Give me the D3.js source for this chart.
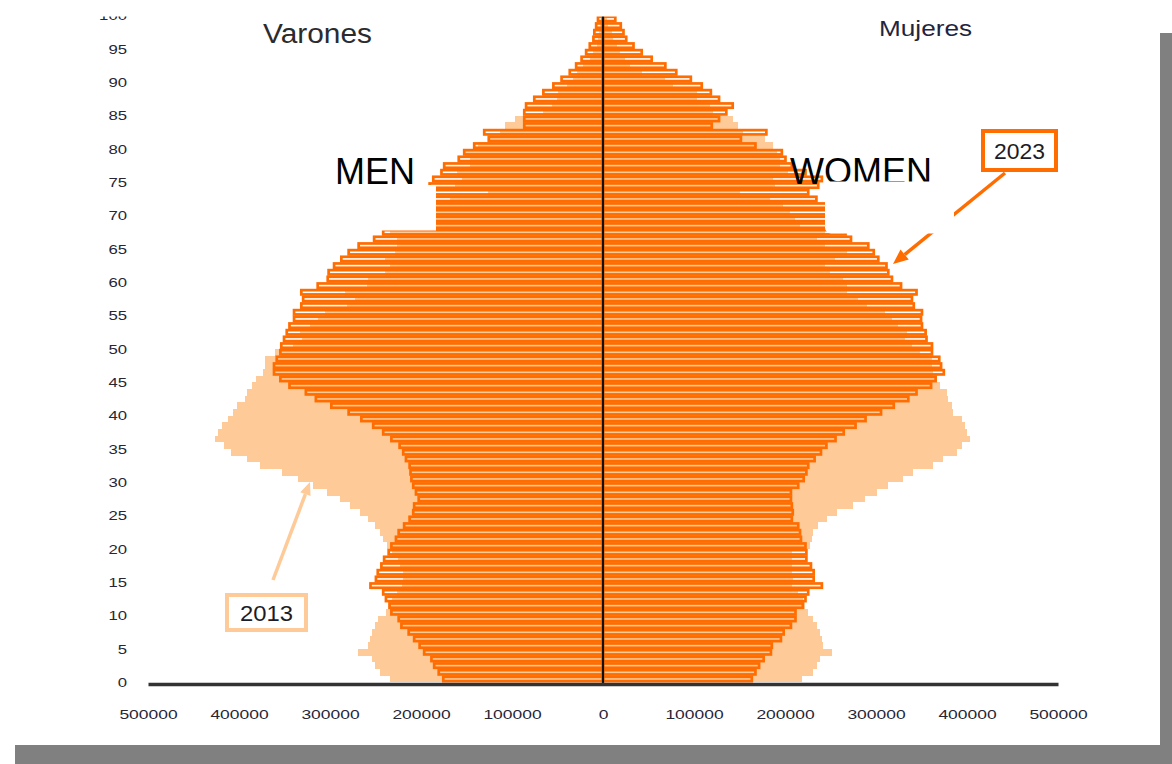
<!DOCTYPE html>
<html>
<head>
<meta charset="utf-8">
<script src="https://cdn.jsdelivr.net/npm/d3@7"></script>
<style>
  html, body { margin: 0; padding: 0; background: #fff; }
  svg { display: block; font-family: "Liberation Sans", Arial, sans-serif; }
</style>
</head>
<body>
<script>
// poblacion por edad simple 0..100, en miles
const ages = d3.range(0, 101);

const men2013 = [234,245,251,254,269,258,256,254,251,247, 238,236,232,226,221,220,220,223,225,232,
  237,242,245,251,258,267,278,289,303,319, 335,353,377,391,409,417,426,423,419,412,
  407,402,393,391,386,381,374,371,371,360, 341,331,333,322,313,306,281,273,284,259,
  258,240,234,240,229,226,226,234,223,212, 196,185,168,126,163,155,160,146,146,152,
  137,124,113,108,97,66,56,51,49,40, 33,29,22,14,11,7,5,4,3,2,2];

const women2013 = [219,231,235,238,252,242,241,238,235,231, 225,222,220,214,208,209,208,208,208,208,
  227,230,231,236,246,257,275,288,301,313, 330,341,363,374,389,395,403,400,398,395,
  385,384,379,378,370,365,363,362,362,348, 340,332,334,324,318,310,290,280,268,268,
  264,249,244,255,268,244,235,244,216,211, 206,198,184,151,189,187,203,195,195,191,
  187,178,154,148,143,121,118,103,103,77, 68,43,30,24,19,15,11,10,5,4,2];

const men2023 = [177,182,187,190,198,203,209,215,223,226, 234,236,240,243,257,251,249,245,242,237,
  234,229,226,220,214,210,209,204,207,210, 212,213,214,218,221,225,234,243,254,267,
  281,300,317,328,346,356,363,363,360,356, 355,352,349,346,341,341,333,331,333,315,
  304,303,297,289,281,270,253,243,234,225, 218,212,207,201,192,188,179,176,160,154,
  143,127,132,88,88,88,86,77,67,56, 47,38,31,25,20,16,12,11,9,7,5];

const women2023 = [165,169,173,178,186,187,197,200,208,213, 213,221,224,227,242,233,233,230,225,225,
  224,219,218,216,209,210,209,208,208,216, 222,225,227,234,241,247,257,266,279,290,
  307,321,337,346,362,367,376,373,371,363, 363,357,356,352,351,352,343,341,346,329,
  319,315,313,304,299,293,274,268,260,255, 252,249,236,227,238,242,224,209,202,198,
  169,153,181,121,129,137,144,129,120,110, 98,82,70,55,44,35,27,24,21,15,10];

const ageTicks = [0,5,10,15,20,25,30,35,40,45,50,55,60,65,70,75,80,85,90,95,100];
const popTicks = [-500000,-400000,-300000,-200000,-100000,0,100000,200000,300000,400000,500000];

const rows = ages.map((a, i) => ({
  age: a,
  m13: men2013[i] * 1000, w13: women2013[i] * 1000,
  m23: men2023[i] * 1000, w23: women2023[i] * 1000
}));

const light = '#fdca98';
const orange = '#ff6c00';

let svg = d3.select('body').append('svg').attr('width', 1172).attr('height', 764);

// page shadow
svg.append('rect').attr('x', 1160).attr('y', 33).attr('width', 12).attr('height', 731).attr('fill', '#808080');
svg.append('rect').attr('x', 15).attr('y', 745).attr('width', 1157).attr('height', 19).attr('fill', '#808080');

let x = d3.scaleLinear().domain([-500000, 500000]).range([148, 1058]);
let y = d3.scaleLinear().domain([0, 101]).range([682.3, 682.3 - 6.667 * 101]);

// 2013: filled bars
let g13 = svg.append('g').attr('fill', light).attr('shape-rendering', 'crispEdges');
g13.selectAll('rect.m').data(rows).enter().append('rect')
  .attr('x', d => x(-d.m13))
  .attr('width', d => x(0) - x(-d.m13))
  .attr('y', d => y(d.age + 1))
  .attr('height', d => y(d.age) - y(d.age + 1));
g13.selectAll('rect.w').data(rows).enter().append('rect')
  .attr('x', x(0))
  .attr('width', d => x(d.w13) - x(0))
  .attr('y', d => y(d.age + 1))
  .attr('height', d => y(d.age) - y(d.age + 1));

// 2023: outlined bars
const sw = 2.7, bh = 4.3;
let g23 = svg.append('g').attr('fill', 'none').attr('stroke', orange).attr('stroke-width', sw);
g23.selectAll('rect.m').data(rows).enter().append('rect')
  .attr('x', d => x(-d.m23) + sw / 2)
  .attr('width', d => x(0) - x(-d.m23) - sw / 2)
  .attr('y', d => (y(d.age) + y(d.age + 1)) / 2 - bh / 2)
  .attr('height', bh);
g23.selectAll('rect.w').data(rows).enter().append('rect')
  .attr('x', x(0))
  .attr('width', d => x(d.w23) - x(0) - sw / 2)
  .attr('y', d => (y(d.age) + y(d.age + 1)) / 2 - bh / 2)
  .attr('height', bh);

// centre line
svg.append('line')
  .attr('x1', x(0)).attr('x2', x(0))
  .attr('y1', 10).attr('y2', 684)
  .attr('stroke', '#111').attr('stroke-width', 2.2);

// axes
let xAxis = svg.append('g')
  .attr('transform', 'translate(0,684)')
  .call(d3.axisBottom(x).tickValues(popTicks).tickSize(0).tickSizeOuter(0).tickFormat(d => Math.abs(d)));
xAxis.select('.domain').attr('stroke', '#333').attr('stroke-width', 3.5);
xAxis.selectAll('text')
  .attr('y', 30).attr('dy', '0.35em')
  .attr('font-size', 13)
  .attr('font-family', '"Liberation Sans", Arial, sans-serif')
  .attr('fill', '#262636')
  .attr('textLength', d => String(Math.abs(d)).length * 9.7)
  .attr('lengthAdjust', 'spacingAndGlyphs');

let yAxis = svg.append('g')
  .attr('transform', 'translate(130,0)')
  .call(d3.axisLeft(y).tickValues(ageTicks).tickSize(0).tickPadding(3));
yAxis.select('.domain').remove();
yAxis.selectAll('text')
  .attr('font-size', 13)
  .attr('font-family', '"Liberation Sans", Arial, sans-serif')
  .attr('fill', '#262636')
  .attr('textLength', d => String(d).length * 9.3)
  .attr('lengthAdjust', 'spacingAndGlyphs');

// cropped top edge of the original picture
svg.append('rect').attr('x', 0).attr('y', 0).attr('width', 1160).attr('height', 16.5).attr('fill', '#fff');

// titles
svg.append('text').attr('x', 263).attr('y', 43)
  .attr('font-size', 27).attr('fill', '#2b2b2e')
  .attr('textLength', 109).attr('lengthAdjust', 'spacingAndGlyphs')
  .text('Varones');
svg.append('text').attr('x', 879).attr('y', 36)
  .attr('font-size', 22).attr('fill', '#1f2540')
  .attr('textLength', 93).attr('lengthAdjust', 'spacingAndGlyphs')
  .text('Mujeres');

svg.append('text').attr('x', 335).attr('y', 184)
  .attr('font-size', 36).attr('fill', '#000').text('MEN');
svg.append('text').attr('x', 790).attr('y', 184)
  .attr('font-size', 36).attr('fill', '#000').text('WOMEN');

// arrows for the year labels
function arrow(x1, y1, x2, y2, color, w, len, half) {
  let a = Math.atan2(y2 - y1, x2 - x1);
  let bx = x2 - len * Math.cos(a), by = y2 - len * Math.sin(a);
  svg.append('line')
    .attr('x1', x1).attr('y1', y1).attr('x2', bx).attr('y2', by)
    .attr('stroke', color).attr('stroke-width', w);
  let px = -Math.sin(a) * half, py = Math.cos(a) * half;
  svg.append('path')
    .attr('d', 'M' + x2 + ',' + y2 + 'L' + (bx + px) + ',' + (by + py) + 'L' + (bx - px) + ',' + (by - py) + 'Z')
    .attr('fill', color);
}

// 2023 label
arrow(1005, 173, 893, 264, orange, 3.5, 15, 6.5);
svg.append('rect').attr('x', 983).attr('y', 131).attr('width', 73).attr('height', 39)
  .attr('fill', '#fff').attr('stroke', orange).attr('stroke-width', 4);
svg.append('text').attr('x', 1019.5).attr('y', 159)
  .attr('text-anchor', 'middle').attr('font-size', 22).attr('fill', '#1c1c28')
  .attr('textLength', 51).attr('lengthAdjust', 'spacingAndGlyphs')
  .text('2023');

// 2013 label
arrow(273, 580, 310, 482, light, 3.5, 13, 5.5);
svg.append('rect').attr('x', 227).attr('y', 595).attr('width', 79).attr('height', 35)
  .attr('fill', '#fff').attr('stroke', light).attr('stroke-width', 4);
svg.append('text').attr('x', 266.5).attr('y', 620.5)
  .attr('text-anchor', 'middle').attr('font-size', 22).attr('fill', '#1c1c28')
  .attr('textLength', 53).attr('lengthAdjust', 'spacingAndGlyphs')
  .text('2013');

// white patches pasted over the original picture
svg.append('rect').attr('x', 330).attr('y', 185).attr('width', 106).attr('height', 45.5).attr('fill', '#fff');
svg.append('rect').attr('x', 825).attr('y', 181.5).attr('width', 129).attr('height', 52)
  .attr('rx', 6).attr('fill', '#fff');
</script>
</body>
</html>
